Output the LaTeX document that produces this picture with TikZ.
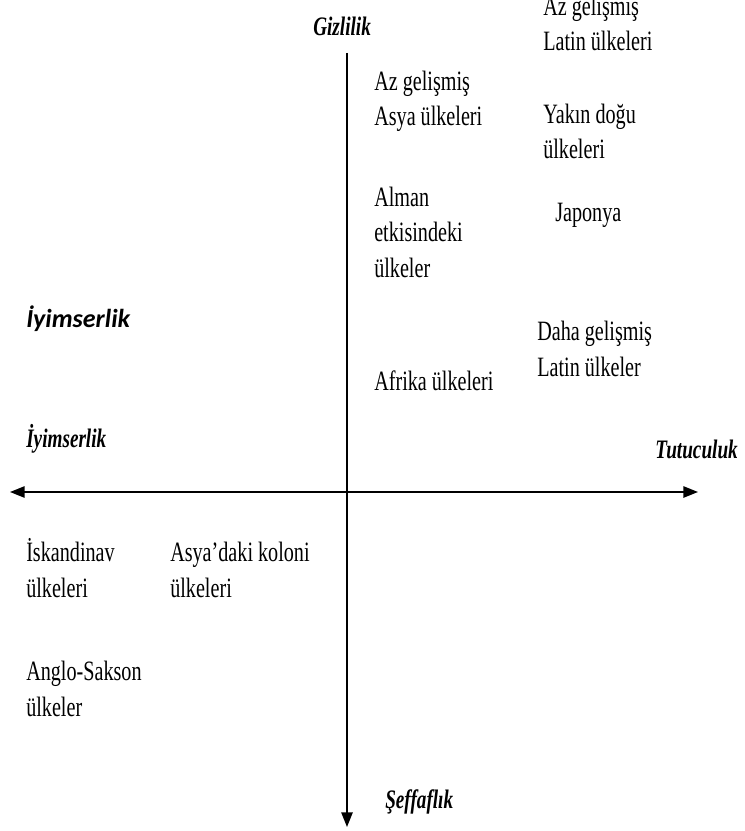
\documentclass[tikz,border=0pt]{standalone}
\usepackage{fontspec}
\setmainfont[FakeStretch=0.72]{Liberation Serif}
\newfontfamily\labelsans{Carlito}
\usetikzlibrary{arrows.meta}

\tikzset{
  axis/.style={line width=1.3pt, -{Triangle[length=11pt,width=8.5pt]}},
  % multi-line items are placed by the baseline of their last line
  item/.style={anchor=base west, inner sep=0pt, align=left,
    font=\fontsize{21}{26.6}\selectfont},
  pole/.style={anchor=base west, inner sep=0pt,
    font=\fontsize{20}{24}\selectfont\bfseries\itshape},
}

\begin{document}
\begin{tikzpicture}[x=0.75pt, y=-0.75pt]
  \useasboundingbox (0,0) rectangle (744,831);

  % axis end points
  \coordinate (vtop) at (347,53);
  \coordinate (vbot) at (347,827);
  \coordinate (hmid) at (347,492);
  \coordinate (hleft) at (10,492);
  \coordinate (hright) at (698,492);

  \draw[axis] (vtop) -- (vbot);
  \draw[axis] (hmid) -- (hleft);
  \draw[axis] (hmid) -- (hright);

  % pole labels
  \node[pole] (gizlilik) at (313,36) {Gizlilik};
  \node[pole] (tutuculuk) at (655,458) {Tutuculuk};
  \node[pole] (iyimser) at (26,447) {İyimserlik};
  \node[pole] (seffaflik) at (385,808) {Şeffaflık};
  \node[anchor=base west, inner sep=0pt,
        font=\labelsans\fontsize{19.5}{23}\selectfont\bfseries\itshape]
        (iyimsersans) at (26,327) {İyimserlik};

  % upper right quadrant
  \node[item] (azlatin) at (543,51) {Az gelişmiş\\Latin ülkeleri};
  \node[item] (azasya) at (374,126) {Az gelişmiş\\Asya ülkeleri};
  \node[item] (yakindogu) at (543,159) {Yakın doğu\\ülkeleri};
  \node[item] (alman) at (374,277) {Alman\\etkisindeki\\ülkeler};
  \node[item] (japonya) at (555,221) {Japonya};
  \node[item] (dahalatin) at (537,376) {Daha gelişmiş\\Latin ülkeler};
  \node[item] (afrika) at (374,390) {Afrika ülkeleri};

  % lower left quadrant
  \node[item] (iskandinav) at (26,597) {İskandinav\\ülkeleri};
  \node[item] (asyakoloni) at (170,597) {Asya’daki koloni\\ülkeleri};
  \node[item] (anglosakson) at (26,716) {Anglo-Sakson\\ülkeler};
\end{tikzpicture}
\end{document}
